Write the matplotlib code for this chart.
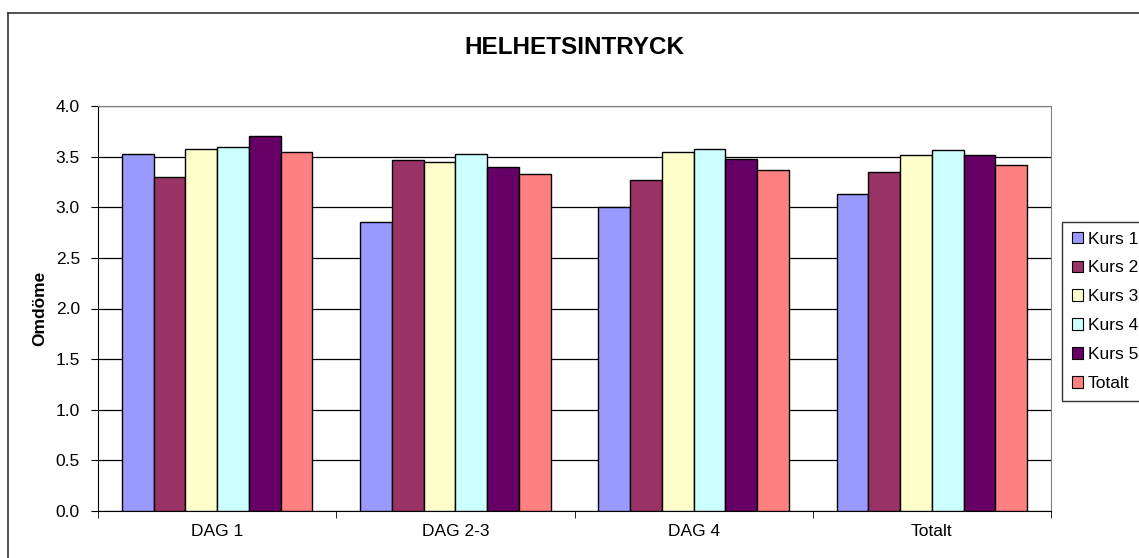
import matplotlib.pyplot as plt
import numpy as np
from matplotlib.lines import Line2D
from matplotlib.patches import Patch

plt.rcParams['font.family'] = ['Liberation Sans', 'DejaVu Sans']

# data
categories = ['DAG 1', 'DAG 2-3', 'DAG 4', 'Totalt']
series = ['Kurs 1', 'Kurs 2', 'Kurs 3', 'Kurs 4', 'Kurs 5', 'Totalt']
kurs1 = [3.53, 2.85, 3.00, 3.13]
kurs2 = [3.30, 3.47, 3.27, 3.35]
kurs3 = [3.58, 3.45, 3.55, 3.52]
kurs4 = [3.60, 3.53, 3.58, 3.57]
kurs5 = [3.70, 3.40, 3.48, 3.52]
totalt = [3.55, 3.33, 3.37, 3.42]
colors = ['#9999FF', '#993366', '#FFFFCC', '#CCFFFF', '#660066', '#FF8080']

values = [kurs1, kurs2, kurs3, kurs4, kurs5, totalt]

W, H = 1139, 558
fig = plt.figure(figsize=(W / 100, H / 100), dpi=100)
ax = fig.add_axes([98 / W, 1 - 511 / H, (1051 - 98) / W, (511 - 106) / H])

x = np.arange(len(categories))
w = 0.8 / len(series)
for j, (vals, c) in enumerate(zip(values, colors)):
    ax.bar(x + (j - 2.5) * w, vals, width=w, color=c, edgecolor='black',
           linewidth=1, zorder=3, label=series[j])

ax.set_xlim(-0.5, len(categories) - 0.5)
ax.set_ylim(0, 4.0)
ax.set_yticks(np.arange(0, 4.01, 0.5))
ax.set_yticklabels([f'{v:.1f}' for v in np.arange(0, 4.01, 0.5)])
ax.yaxis.grid(True, color='black', linewidth=0.9, zorder=0)
ax.set_xticks(x)
ax.set_xticklabels(categories)
ax.set_xticks(np.arange(-0.5, len(categories)), minor=True)
ax.tick_params(axis='x', which='major', length=0, labelsize=12.5, pad=9)
ax.tick_params(axis='x', which='minor', length=5, direction='out', color='black')
ax.tick_params(axis='y', length=5, direction='out', labelsize=12.5, pad=8)

for side in ['top', 'right']:
    ax.spines[side].set_color('#808080')
for side in ['left', 'bottom']:
    ax.spines[side].set_color('black')

ax.set_ylabel('Omdöme', fontsize=12.5, fontweight='bold', labelpad=6)
fig.text(0.5 * (98 + 1051) / W, 1 - 47 / H, 'HELHETSINTRYCK', fontsize=17.5,
         fontweight='bold', ha='center', va='center')

# outer chart border (right and bottom fall outside the image)
fig.add_artist(Line2D([8 / W, 8 / W], [0, 1 - 13 / H], color='#333333', lw=1.2))
fig.add_artist(Line2D([8 / W, 1], [1 - 13 / H, 1 - 13 / H], color='#333333', lw=1.2))

handles = [Patch(facecolor=c, edgecolor='black', linewidth=0.8) for c in colors]
leg = fig.legend(handles, series, loc='upper left',
                 bbox_to_anchor=(1062 / W, 1 - 222 / H), fontsize=12.5,
                 frameon=True, fancybox=False, edgecolor='black',
                 handlelength=0.65, handleheight=0.65, handletextpad=0.3,
                 labelspacing=0.8, borderpad=0.55, borderaxespad=0)
leg.get_frame().set_linewidth(1)

fig.savefig('out.png', dpi=100)
